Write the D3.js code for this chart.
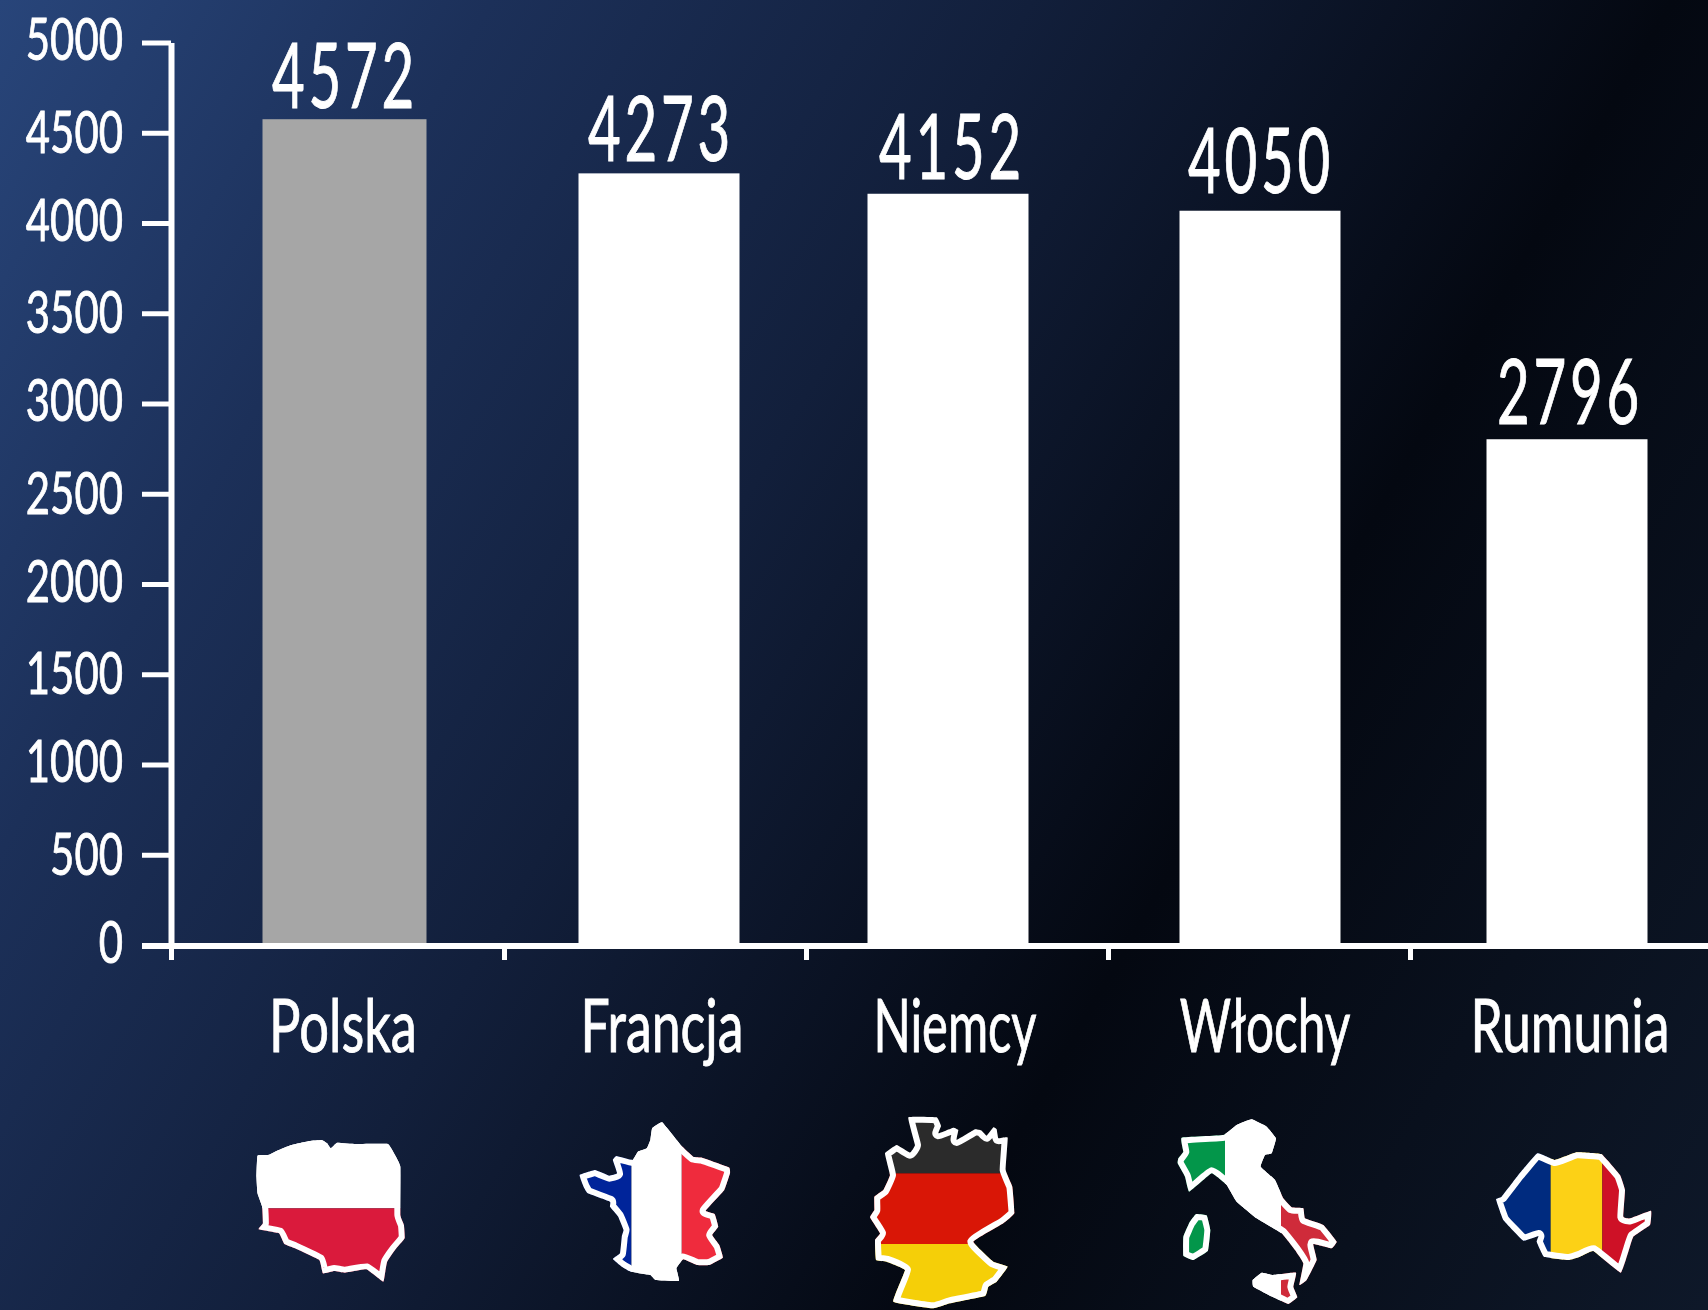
<!DOCTYPE html>
<html><head><meta charset="utf-8">
<script src="https://cdn.jsdelivr.net/npm/d3@7"></script>
<style>html,body{margin:0;padding:0;background:#050a14}svg{display:block}
text{font-family:Lato,"Open Sans",sans-serif;fill:#fff;stroke:#fff;stroke-width:.9px}</style>
</head><body><svg id="c" width="1708" height="1310"></svg>
<script>
const categories=["Polska","Francja","Niemcy","Włochy","Rumunia"];
const values=[4572,4273,4152,4050,2796];
const barValues=[4575,4275,4162,4068,2802];
const yTicks=[0,500,1000,1500,2000,2500,3000,3500,4000,4500,5000];
const barColors=["#a6a6a6","#ffffff","#ffffff","#ffffff","#ffffff"];
const W=1708,H=1310;
const svg=d3.select("#c");
const defs=svg.append("defs");
const g=defs.append("linearGradient").attr("id","bg").attr("gradientUnits","userSpaceOnUse")
 .attr("x1",0).attr("y1",0).attr("x2",1845).attr("y2",1065);
[[0,"#28457a"],[.2,"#1c3059"],[.42,"#121f3b"],[.68,"#040811"],[1,"#0e1829"]].forEach(s=>g.append("stop").attr("offset",s[0]).attr("stop-color",s[1]));
svg.append("rect").attr("width",W).attr("height",H).attr("fill","url(#bg)");

const y=d3.scaleLinear().domain([0,5000]).range([945,42.5]);
const xBar=d3.scaleLinear().domain([0,1,2,3,4]).range([344.5,659,948,1260,1567]);
const xLabel=d3.scaleLinear().domain([0,1,2,3,4]).range([343,662,955,1265,1570]);
const xValue=d3.scaleLinear().domain([0,1,2,3,4]).range([345,661,952,1261,1570]);
const xTick=d3.scaleLinear().domain([0,1,2,3,4]).range([171,504,806,1108,1410]);
const barWs=[164,161,161,161,161];
const labelGaps=[11,12,15,18,15];
const labelStretch=[.71,.70,.66,.67,.70];

svg.append("g").selectAll("rect").data(barValues).join("rect")
 .attr("x",(d,i)=>xBar(i)-barWs[i]/2).attr("width",(d,i)=>barWs[i])
 .attr("y",d=>y(d)).attr("height",d=>y(0)-y(d))
 .attr("fill",(d,i)=>barColors[i]);

const ay=svg.append("g").attr("transform","translate(171,0)")
 .call(d3.axisLeft(y).tickValues(yTicks).tickSize(29).tickSizeOuter(0).tickFormat(d3.format("d")));
ay.select("path").attr("stroke","#fff").attr("stroke-width",6);
ay.selectAll("line").attr("stroke","#fff").attr("stroke-width",5);
ay.selectAll("text").attr("x",0).attr("dy",null).attr("y",0)
 .attr("text-anchor","end").attr("font-size",59).attr("fill","#fff")
 .attr("transform",d=>`translate(-48,${17+(d/500%2?2.5:0)}) scale(.71,1)`).style("font-family",null);
const ax=svg.append("g").attr("transform","translate(0,946)")
 .call(d3.axisBottom(xTick).tickValues([0,1,2,3,4]).tickSize(14).tickSizeOuter(0).tickFormat(""));
ax.select("path").attr("d",`M142,0H${W}`).attr("stroke","#fff").attr("stroke-width",6);
ax.selectAll("line").attr("stroke","#fff").attr("stroke-width",5);

svg.append("g").selectAll("text").data(values).join("text")
 .attr("text-anchor","middle").attr("font-size",91).attr("letter-spacing",6)
 .style("stroke-width","1px")
 .attr("transform",(d,i)=>`translate(${xValue(i)},${y(barValues[i])-labelGaps[i]}) scale(.62,1)`)
 .text(d=>d);
svg.append("g").selectAll("text").data(categories).join("text")
 .attr("text-anchor","middle").attr("font-size",74)
 .attr("transform",(d,i)=>`translate(${xLabel(i)},1052) scale(${labelStretch[i]},1)`)
 .text(d=>d);

// decorative country-shaped flags: outlines traced in zoom-crop units
const maps=[
 {o:[220,1090],kx:1/2.8,ky:1/3,axis:"y",stops:[355],cols:["#ffffff","#da1a3c"],shapes:[[[105,197],[135,195],[160,182],[200,165],[250,153],[285,150],[300,160],[310,175],[328,158],[380,162],[470,162],[490,195],[505,230],[505,375],[515,405],[517,445],[490,480],[468,515],[462,550],[457,575],[410,538],[350,548],[320,543],[288,550],[278,510],[210,475],[180,462],[165,430],[108,418],[120,400],[118,350],[105,310],[102,260]]]},
 {o:[220,1090],kx:1/2.8,ky:1/3,axis:"x",stops:[1152,1293],cols:["#00249a","#ffffff","#ef2b3d"],shapes:[[[1238,97],[1290,165],[1325,200],[1350,203],[1425,232],[1428,250],[1412,300],[1360,362],[1385,372],[1395,410],[1378,435],[1398,465],[1408,503],[1370,525],[1335,525],[1297,508],[1278,535],[1285,573],[1220,570],[1205,555],[1150,545],[1125,530],[1100,507],[1120,490],[1125,440],[1130,420],[1115,380],[1092,350],[1092,335],[1030,310],[1018,290],[1007,255],[1050,240],[1090,257],[1112,250],[1100,210],[1110,198],[1155,210],[1170,185],[1195,175],[1205,150],[1210,115]]]},
 {o:[840,1090],kx:1/3,ky:1/3,axis:"y",stops:[250,462],cols:["#2b2b2b","#d91606","#f5cf08"],shapes:[[[205,82],[290,82],[303,108],[295,130],[340,113],[355,120],[350,150],[405,118],[425,122],[440,137],[460,112],[470,118],[475,145],[503,143],[497,240],[517,290],[523,370],[490,400],[400,455],[460,515],[503,530],[470,575],[445,590],[435,618],[330,640],[280,655],[160,635],[195,540],[140,515],[108,510],[105,450],[120,430],[90,382],[103,360],[103,320],[130,300],[150,255],[135,190],[170,165],[210,188],[225,165]]]},
 {o:[840,1090],kx:1/3,ky:1/3,axis:"x",stops:[1155,1323],cols:["#03964a","#ffffff","#cf2b3a"],shapes:[
  [[1025,143],[1150,135],[1190,105],[1235,88],[1280,110],[1308,145],[1295,190],[1275,195],[1262,230],[1305,270],[1330,325],[1355,352],[1390,355],[1395,385],[1450,405],[1490,455],[1475,475],[1420,462],[1430,510],[1400,570],[1378,585],[1390,520],[1365,480],[1325,430],[1250,385],[1190,335],[1160,285],[1115,250],[1048,305],[1035,260],[1013,220],[1015,205],[1030,185]],
  [[1238,570],[1265,548],[1300,555],[1368,548],[1360,590],[1372,622],[1345,642],[1300,622],[1240,590]],
  [[1068,372],[1100,376],[1111,420],[1104,482],[1060,510],[1030,497],[1030,440],[1048,398]]]},
 {o:[1460,1120],kx:1/3,ky:1/3,axis:"x",stops:[272,427],cols:["#002b7f","#fcd116","#ce1126"],shapes:[[[232,100],[285,120],[350,97],[425,103],[480,165],[495,210],[490,290],[510,295],[573,272],[570,315],[520,350],[505,395],[482,458],[400,393],[360,410],[325,420],[252,410],[230,365],[235,348],[190,362],[130,300],[108,238],[125,230],[175,165]]]}
];
const outline=d3.line().curve(d3.curveCardinalClosed.tension(.75));
maps.forEach((m,i)=>{
 const sx=d3.scaleLinear().domain([0,1]).range([m.o[0],m.o[0]+m.kx]);
 const sy=d3.scaleLinear().domain([0,1]).range([m.o[1],m.o[1]+m.ky]);
 const d=m.shapes.map(s=>outline(s.map(p=>[sx(p[0]),sy(p[1])]))).join("");
 defs.append("clipPath").attr("id","clip"+i).append("path").attr("d",d);
 const bands=svg.append("g").attr("clip-path",`url(#clip${i})`);
 const edges=m.axis==="y"?[0,...m.stops.map(sy),H]:[0,...m.stops.map(sx),W];
 m.cols.forEach((c,j)=>{
  const r=bands.append("rect").attr("fill",c);
  if(m.axis==="y")r.attr("x",0).attr("width",W).attr("y",edges[j]).attr("height",edges[j+1]-edges[j]);
  else r.attr("y",0).attr("height",H).attr("x",edges[j]).attr("width",edges[j+1]-edges[j]);
 });
 bands.append("path").attr("d",d).attr("fill","none").attr("stroke","#fff")
  .attr("stroke-width",12).attr("stroke-linejoin","round");
});
</script></body></html>
